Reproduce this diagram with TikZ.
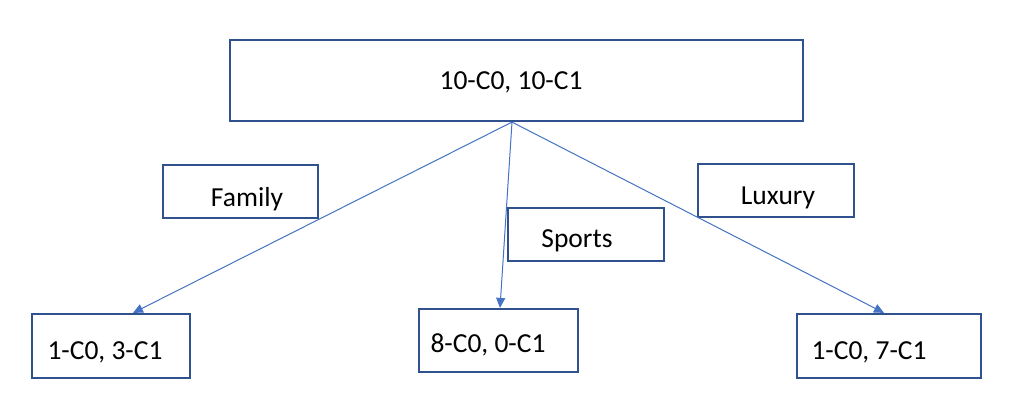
\documentclass[tikz,border=0pt]{standalone}
\usepackage{fontspec}
\setmainfont{Carlito}
\usetikzlibrary{arrows.meta}
\definecolor{boxblue}{HTML}{2F528F}
\definecolor{lineblue}{HTML}{4472C4}
\tikzset{
  box/.style={draw=boxblue,line width=2.2pt,minimum width=#1,inner sep=0pt},
  lbl/.style={anchor=base,inner sep=0pt,font=\fontsize{27.5}{30}\selectfont},
  edge/.style={draw=lineblue,line width=1pt,-{Triangle[length=10pt,width=9pt]}}
}

\begin{document}
\begin{tikzpicture}[x=1pt,y=-1pt]
\useasboundingbox (0,0) rectangle (1012,418);

\node[box=573pt,minimum height=81pt] (top) at (516.5,80.5) {};
\node[box=155pt,minimum height=53pt] (family) at (240.5,191.5) {};
\node[box=156pt,minimum height=53pt] (sports) at (586,234.5) {};
\node[box=156pt,minimum height=53pt] (luxury) at (776,190.5) {};
\node[box=158pt,minimum height=64pt] (left) at (111,346) {};
\node[box=159pt,minimum height=63pt] (mid) at (498.5,340.5) {};
\node[box=184pt,minimum height=64pt] (right) at (889,346) {};

\node[lbl] (toptext) at (511,89) {10-C0, 10-C1};
\node[lbl] (familytext) at (247,206) {Family};
\node[lbl] (sportstext) at (577,247) {Sports};
\node[lbl] (luxurytext) at (778,204) {Luxury};
\node[lbl] (lefttext) at (105,359) {1-C0, 3-C1};
\node[lbl] (midtext) at (488,352) {8-C0, 0-C1};
\node[lbl] (righttext) at (869,359) {1-C0, 7-C1};

\coordinate (root) at ([xshift=-4.5pt]top.south);

\draw[edge] (root) -- ([xshift=22pt]left.north);
\draw[edge] (root) -- ([xshift=1.5pt]mid.north);
\draw[edge] (root) -- ([xshift=-5pt]right.north);
\end{tikzpicture}
\end{document}
